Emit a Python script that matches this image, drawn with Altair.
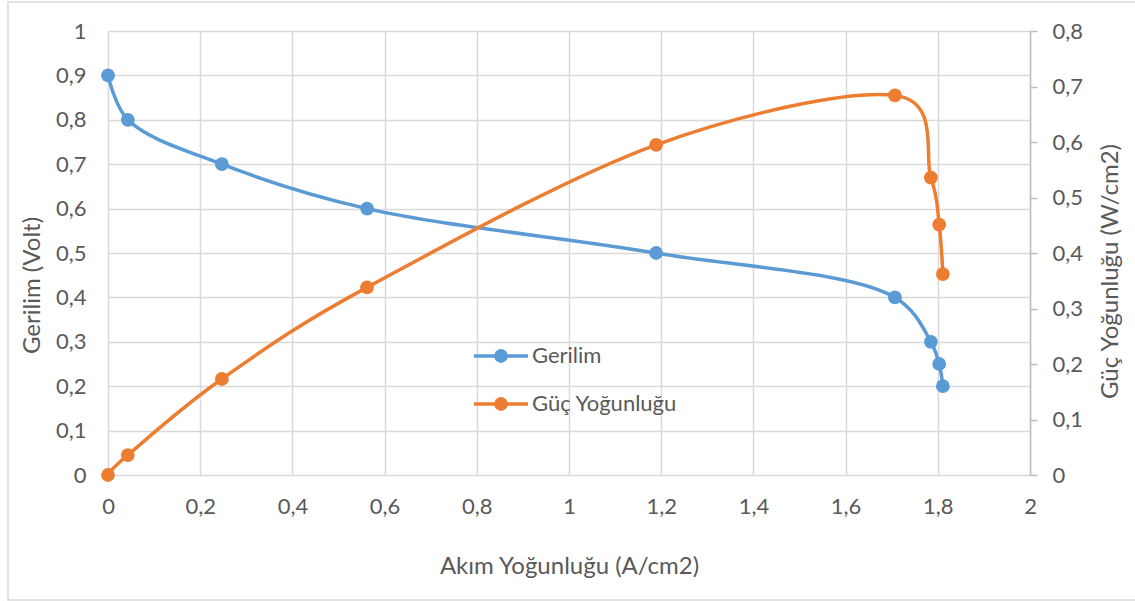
import altair as alt
import pandas as pd

# Polarization data of the cell
current_density = [0, 0.043, 0.247, 0.562, 1.189, 1.707, 1.785, 1.803, 1.811]   # A/cm2
voltage = [0.9, 0.8, 0.7, 0.6, 0.5, 0.4, 0.3, 0.25, 0.2]                          # V
power_density = [0, 0.036, 0.173, 0.338, 0.595, 0.684, 0.536, 0.451, 0.362]      # W/cm2

series_names = ["Gerilim", "Güç Yoğunluğu"]
series_colors = ["#5B9BD5", "#ED7D31"]

x_ticks = [0, 0.2, 0.4, 0.6, 0.8, 1, 1.2, 1.4, 1.6, 1.8, 2]
left_ticks = [0, 0.1, 0.2, 0.3, 0.4, 0.5, 0.6, 0.7, 0.8, 0.9, 1]
right_ticks = [0, 0.1, 0.2, 0.3, 0.4, 0.5, 0.6, 0.7, 0.8]

df = pd.DataFrame({"I": current_density, "V": voltage, "P": power_density})

FONT = "Lato"
TXT = "#595959"
GRID = "#d9d9d9"
LABEL_SIZE = 22
TITLE_SIZE = 24
LINE_W = 3.5
DOT = 190
comma_fmt = "replace(format(datum.value, '.1~f'), '.', ',')"

x_enc = alt.X(
    "I:Q",
    scale=alt.Scale(domain=[0, 2], nice=False),
    axis=alt.Axis(
        values=x_ticks, labelExpr=comma_fmt, title="Akım Yoğunluğu (A/cm2)",
        grid=True, gridColor=GRID, gridWidth=1.5, domain=False, ticks=False,
        labelFlush=False, labelOverlap=False,
        labelPadding=21, labelFontSize=LABEL_SIZE, labelColor=TXT, labelFont=FONT,
        titleFontSize=TITLE_SIZE, titleColor=TXT, titleFont=FONT, titleFontWeight="normal",
        titleBaseline="middle", titleY=91,
    ),
)

base = alt.Chart(df)

volt_axis = alt.Axis(
    values=left_ticks, labelExpr=comma_fmt, title="Gerilim (Volt)", orient="left",
    grid=True, gridColor=GRID, gridWidth=1.5, domain=False, ticks=False,
    labelFlush=False, labelOverlap=False,
    labelPadding=22, labelFontSize=LABEL_SIZE, labelColor=TXT, labelFont=FONT,
    titleFontSize=TITLE_SIZE, titleColor=TXT, titleFont=FONT, titleFontWeight="normal",
    titleAngle=270, titleAlign="center", titleBaseline="middle", titleX=-76, titleY=254,
)
volt_y = alt.Y("V:Q", scale=alt.Scale(domain=[0, 1], nice=False), axis=volt_axis)

power_axis = alt.Axis(
    values=right_ticks, labelExpr=comma_fmt, title="Güç Yoğunluğu (W/cm2)", orient="right",
    grid=False, domain=True, domainColor="#bfbfbf", domainWidth=1.5,
    ticks=True, tickColor="#bfbfbf", tickSize=7, tickWidth=1.5,
    labelFlush=False, labelOverlap=False,
    labelPadding=15, labelFontSize=LABEL_SIZE, labelColor=TXT, labelFont=FONT,
    titleFontSize=TITLE_SIZE, titleColor=TXT, titleFont=FONT, titleFontWeight="normal",
    titleAngle=270, titleAlign="center", titleBaseline="middle", titleX=80, titleY=240,
)
power_y = alt.Y("P:Q", scale=alt.Scale(domain=[0, 0.8], nice=False), axis=power_axis)

# Smoothed lines: centripetal spline for the voltage curve, cardinal for the power curve
volt_layer = alt.layer(
    base.mark_line(color=series_colors[0], strokeWidth=LINE_W, interpolate="catmull-rom").encode(x=x_enc, y=volt_y),
    base.mark_point(color=series_colors[0], filled=True, opacity=1, size=DOT).encode(x=x_enc, y=volt_y),
)
power_layer = alt.layer(
    base.mark_line(color=series_colors[1], strokeWidth=LINE_W, interpolate="cardinal").encode(x=x_enc, y=power_y),
    base.mark_point(color=series_colors[1], filled=True, opacity=1, size=DOT).encode(x=x_enc, y=power_y),
)

# Legend drawn inside the plot area
legend_src = alt.Chart(pd.DataFrame({"k": [0]}))


def legend_entry(name, color, ypx):
    line = legend_src.mark_rule(color=color, strokeWidth=LINE_W).encode(
        x=alt.value(366), x2=alt.value(420), y=alt.value(ypx))
    dot = legend_src.mark_point(color=color, filled=True, opacity=1, size=DOT).encode(
        x=alt.value(393), y=alt.value(ypx))
    label = legend_src.mark_text(align="left", baseline="middle", font=FONT, fontSize=LABEL_SIZE,
                                 color=TXT, text=name).encode(x=alt.value(424), y=alt.value(ypx))
    return [line, dot, label]


legend_layers = (legend_entry(series_names[0], series_colors[0], 325)
                 + legend_entry(series_names[1], series_colors[1], 373))

frame = legend_src.mark_rect(fill="white", fillOpacity=0, stroke=GRID, strokeWidth=1.5).encode(
    x=alt.value(-100), x2=alt.value(1040), y=alt.value(-29), y2=alt.value(569))

chart = alt.layer(
    volt_layer, power_layer, *legend_layers, frame
).resolve_scale(y="independent").properties(
    width=922, height=444,
    autosize=alt.AutoSizeParams(type="none"),
    padding={"left": 108, "top": 31, "right": 105, "bottom": 126},
    background="white",
).configure_view(stroke=None)

chart.save("out.html", embed_options={"renderer": "svg", "actions": False})
